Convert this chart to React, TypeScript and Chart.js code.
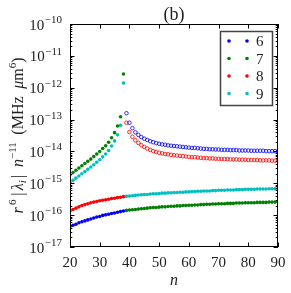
import React, { useEffect, useRef } from "react";
import { Chart, registerables } from "chart.js";
Chart.register(...registerables);

// n values
const nBefore = [20, 21, 22, 23, 24, 25, 26, 27, 28, 29, 30, 31, 32, 33, 34, 35, 36, 37, 38];
const nAfter = [
  39, 40, 41, 42, 43, 44, 45, 46, 47, 48, 49, 50, 51, 52, 53, 54, 55, 56, 57, 58, 59, 60, 61, 62, 63, 64,
  65, 66, 67, 68, 69, 70, 71, 72, 73, 74, 75, 76, 77, 78, 79, 80, 81, 82, 83, 84, 85, 86, 87, 88, 89, 90,
];

// series 6 (blue)
const blueBefore = [
  4.4e-17, 4.8e-17, 5.2e-17, 5.8e-17, 6.2e-17, 6.6e-17, 7.1e-17, 7.6e-17, 8.1e-17, 8.7e-17, 9.1e-17, 9.8e-17,
  1.02e-16, 1.07e-16, 1.12e-16, 1.17e-16, 1.23e-16, 1.29e-16, 1.35e-16,
];
const blueAfter = [
  1.58e-13, 7.94e-14, 5.37e-14, 3.98e-14, 3.31e-14, 2.82e-14, 2.51e-14, 2.29e-14, 2.09e-14, 1.95e-14, 1.82e-14,
  1.74e-14, 1.66e-14, 1.62e-14, 1.55e-14, 1.51e-14, 1.48e-14, 1.45e-14, 1.41e-14, 1.38e-14, 1.35e-14, 1.32e-14,
  1.29e-14, 1.29e-14, 1.26e-14, 1.23e-14, 1.2e-14, 1.2e-14, 1.17e-14, 1.17e-14, 1.15e-14, 1.15e-14, 1.12e-14,
  1.12e-14, 1.12e-14, 1.1e-14, 1.1e-14, 1.1e-14, 1.07e-14, 1.07e-14, 1.07e-14, 1.07e-14, 1.05e-14, 1.05e-14,
  1.05e-14, 1.05e-14, 1.05e-14, 1.02e-14, 1.02e-14, 1.02e-14, 1.02e-14, 1.02e-14,
];

// series 7 (green)
const greenBefore = [
  1.86e-15, 2.19e-15, 2.57e-15, 3.02e-15, 3.55e-15, 4.17e-15, 4.9e-15, 5.75e-15, 6.92e-15, 8.32e-15, 1.0e-14,
  1.23e-14, 1.51e-14, 1.95e-14, 2.69e-14, 3.89e-14, 6.31e-14, 1.23e-13, 2.69e-12,
];
const greenAfter = [
  1.41e-16, 1.45e-16, 1.48e-16, 1.51e-16, 1.55e-16, 1.58e-16, 1.62e-16, 1.66e-16, 1.7e-16, 1.74e-16, 1.74e-16,
  1.78e-16, 1.82e-16, 1.82e-16, 1.86e-16, 1.91e-16, 1.91e-16, 1.95e-16, 1.95e-16, 2.0e-16, 2.0e-16, 2.04e-16,
  2.04e-16, 2.09e-16, 2.09e-16, 2.14e-16, 2.14e-16, 2.19e-16, 2.19e-16, 2.24e-16, 2.24e-16, 2.29e-16, 2.29e-16,
  2.29e-16, 2.34e-16, 2.34e-16, 2.34e-16, 2.4e-16, 2.4e-16, 2.4e-16, 2.45e-16, 2.45e-16, 2.45e-16, 2.45e-16,
  2.51e-16, 2.51e-16, 2.51e-16, 2.51e-16, 2.57e-16, 2.57e-16, 2.57e-16, 2.57e-16,
];

// series 8 (red)
const redBefore = [
  1.35e-16, 1.51e-16, 1.66e-16, 1.82e-16, 2.0e-16, 2.14e-16, 2.29e-16, 2.45e-16, 2.57e-16, 2.69e-16, 2.82e-16,
  2.95e-16, 3.02e-16, 3.16e-16, 3.31e-16, 3.39e-16, 3.55e-16, 3.63e-16, 3.8e-16,
];
const redAfter = [
  7.94e-14, 4.07e-14, 2.88e-14, 2.24e-14, 1.86e-14, 1.58e-14, 1.38e-14, 1.23e-14, 1.12e-14, 1.02e-14, 9.55e-15,
  9.12e-15, 8.71e-15, 8.32e-15, 8.13e-15, 7.76e-15, 7.59e-15, 7.41e-15, 7.24e-15, 7.08e-15, 6.92e-15, 6.76e-15,
  6.61e-15, 6.61e-15, 6.46e-15, 6.31e-15, 6.17e-15, 6.17e-15, 6.03e-15, 6.03e-15, 5.89e-15, 5.89e-15, 5.75e-15,
  5.75e-15, 5.75e-15, 5.62e-15, 5.62e-15, 5.62e-15, 5.5e-15, 5.5e-15, 5.5e-15, 5.37e-15, 5.37e-15, 5.37e-15,
  5.37e-15, 5.25e-15, 5.25e-15, 5.25e-15, 5.25e-15, 5.13e-15, 5.13e-15, 5.13e-15,
];

// series 9 (cyan)
const cyanBefore = [
  1.05e-15, 1.23e-15, 1.45e-15, 1.7e-15, 2.0e-15, 2.34e-15, 2.75e-15, 3.24e-15, 3.8e-15, 4.57e-15, 5.5e-15,
  6.76e-15, 8.32e-15, 1.07e-14, 1.48e-14, 2.14e-14, 3.31e-14, 6.61e-14, 1.41e-12,
];
const cyanAfter = [
  3.89e-16, 3.98e-16, 4.07e-16, 4.17e-16, 4.27e-16, 4.37e-16, 4.47e-16, 4.47e-16, 4.57e-16, 4.68e-16, 4.68e-16,
  4.79e-16, 4.9e-16, 4.9e-16, 5.01e-16, 5.01e-16, 5.13e-16, 5.13e-16, 5.25e-16, 5.25e-16, 5.37e-16, 5.37e-16,
  5.5e-16, 5.5e-16, 5.62e-16, 5.62e-16, 5.75e-16, 5.75e-16, 5.75e-16, 5.89e-16, 5.89e-16, 6.03e-16, 6.03e-16,
  6.03e-16, 6.17e-16, 6.17e-16, 6.17e-16, 6.31e-16, 6.31e-16, 6.31e-16, 6.46e-16, 6.46e-16, 6.46e-16, 6.46e-16,
  6.61e-16, 6.61e-16, 6.61e-16, 6.61e-16, 6.76e-16, 6.76e-16, 6.76e-16, 6.76e-16,
];

const legendLabels = ["6", "7", "8", "9"];
const legendColors = ["#0000ff", "#008000", "#ff0000", "#00bfbf"];
const xTicks = [20, 30, 40, 50, 60, 70, 80, 90];
const yTickExps = [-17, -16, -15, -14, -13, -12, -11, -10];
const titleText = "(b)";
const xLabel = "n";

const SERIF = '"Liberation Serif", "DejaVu Serif", serif';
const TEXT = "#222";

function pts(xs: number[], ys: number[]) {
  return xs.map((x, i) => ({ x, y: ys[i] }));
}

function filled(label: string, color: string, xs: number[], ys: number[]) {
  return {
    label,
    data: pts(xs, ys),
    pointRadius: 1.8,
    pointBorderWidth: 0,
    pointBackgroundColor: color,
    pointBorderColor: color,
    showLine: false,
  };
}
function open(label: string, color: string, xs: number[], ys: number[]) {
  return {
    label,
    data: pts(xs, ys),
    pointRadius: 1.8,
    pointBorderWidth: 0.8,
    pointBackgroundColor: "rgba(0,0,0,0)",
    pointBorderColor: color,
    showLine: false,
  };
}

const decoPlugin = {
  id: "deco",
  afterDraw(chart: any) {
    const { ctx, chartArea: a, scales } = chart;
    const xs = scales.x;
    const ys = scales.y;
    ctx.save();
    // frame
    ctx.strokeStyle = "#000";
    ctx.lineWidth = 1;
    ctx.strokeRect(a.left + 0.5, a.top + 0.5, a.right - a.left - 1, a.bottom - a.top - 1);

    // x ticks
    ctx.beginPath();
    for (const v of xTicks) {
      const px = Math.round(xs.getPixelForValue(v)) + 0.5;
      ctx.moveTo(px, a.bottom);
      ctx.lineTo(px, a.bottom - 4.5);
      ctx.moveTo(px, a.top);
      ctx.lineTo(px, a.top + 4.5);
    }
    // y ticks
    for (const e of yTickExps) {
      const py = Math.round(ys.getPixelForValue(Math.pow(10, e))) + 0.5;
      ctx.moveTo(a.left, py);
      ctx.lineTo(a.left + 4.5, py);
      ctx.moveTo(a.right, py);
      ctx.lineTo(a.right - 4.5, py);
      if (e < -10) {
        for (let m = 2; m <= 9; m++) {
          const pm = Math.round(ys.getPixelForValue(m * Math.pow(10, e))) + 0.5;
          ctx.moveTo(a.left, pm);
          ctx.lineTo(a.left + 2.3, pm);
          ctx.moveTo(a.right, pm);
          ctx.lineTo(a.right - 2.3, pm);
        }
      }
    }
    ctx.stroke();

    ctx.fillStyle = TEXT;
    // x tick labels
    ctx.font = `15px ${SERIF}`;
    ctx.textAlign = "center";
    ctx.textBaseline = "alphabetic";
    for (const v of xTicks) {
      ctx.fillText(String(v), xs.getPixelForValue(v), a.bottom + 20);
    }
    // y tick labels
    for (const e of yTickExps) {
      const py = ys.getPixelForValue(Math.pow(10, e));
      const expStr = "\u2212" + String(-e);
      ctx.font = `11px ${SERIF}`;
      const ew = ctx.measureText(expStr).width;
      const right = a.left - 8;
      ctx.textAlign = "left";
      ctx.fillText(expStr, right - ew, py - 1);
      ctx.font = `15px ${SERIF}`;
      ctx.textAlign = "right";
      ctx.fillText("10", right - ew - 0.5, py + 5.5);
    }
    // x label
    ctx.font = `italic 16px ${SERIF}`;
    ctx.textAlign = "center";
    ctx.fillText(xLabel, (a.left + a.right) / 2, a.bottom + 38);
    // title
    ctx.font = `18px ${SERIF}`;
    ctx.fillText(titleText, (a.left + a.right) / 2, a.top - 4);

    // y label (rich text)
    const segs: [string, string, number][] = [
      ["r", "italic 16px", 0],
      ["6", "11px", -7],
      ["|", "16px", 0],
      ["\u03bb", "italic 16px", 0],
      ["i", "italic 11px", 3],
      ["|", "16px", 0],
      ["n", "italic 16px", 0],
      ["\u221211", "11px", -7],
      ["(MHz", "16px", 0],
      ["\u03bc", "italic 16px", 0],
      ["m", "16px", 0],
      ["6", "11px", -7],
      [")", "16px", 0],
    ];
    const gapAfter = [0.3, 0.5, 0.3, 0, 0.3, 1, 0, 1, 1, 0, 0, 0, 0];
    let natural = 0;
    const widths: number[] = [];
    for (const [t, f] of segs) {
      ctx.font = `${f} ${SERIF}`;
      const w = ctx.measureText(t).width;
      widths.push(w);
      natural += w;
    }
    const target = 156;
    const nGaps = gapAfter.reduce((s, g) => s + g, 0);
    const gap = Math.max(3, (target - natural) / nGaps);
    const total = natural + gap * nGaps;
    const cy = (a.top + a.bottom) / 2;
    ctx.translate(23, cy);
    ctx.rotate(-Math.PI / 2);
    ctx.textAlign = "left";
    let cx = -total / 2;
    segs.forEach(([t, f, dy], i) => {
      ctx.font = `${f} ${SERIF}`;
      ctx.fillText(t, cx, dy);
      cx += widths[i] + gapAfter[i] * gap;
    });
    ctx.setTransform(1, 0, 0, 1, 0, 0);

    // legend
    const bw = 52;
    const bh = 74;
    const bx = a.right - 6 - bw;
    const by = a.top + 7;
    ctx.fillStyle = "#fff";
    ctx.fillRect(bx, by, bw, bh);
    ctx.strokeStyle = "#444";
    ctx.lineWidth = 1.5;
    ctx.strokeRect(bx + 0.5, by + 0.5, bw, bh);
    legendLabels.forEach((lab, i) => {
      const ry = by + 10 + i * 17.5;
      ctx.fillStyle = legendColors[i];
      for (const dx of [9, 27]) {
        ctx.beginPath();
        ctx.arc(bx + dx, ry, 1.8, 0, Math.PI * 2);
        ctx.fill();
      }
      ctx.fillStyle = TEXT;
      ctx.font = `15px ${SERIF}`;
      ctx.textAlign = "left";
      ctx.fillText(lab, bx + 36, ry + 5);
    });
    ctx.restore();
  },
};

export default function App() {
  const ref = useRef<HTMLCanvasElement | null>(null);
  useEffect(() => {
    document.body.style.margin = "0";
    if (!ref.current) return;
    const chart = new Chart(ref.current, {
      type: "scatter",
      data: {
        datasets: [
          filled(legendLabels[0], legendColors[0], nBefore, blueBefore),
          open(legendLabels[0], legendColors[0], nAfter, blueAfter),
          filled(legendLabels[1], legendColors[1], nBefore, greenBefore),
          filled(legendLabels[1], legendColors[1], nAfter, greenAfter),
          filled(legendLabels[2], legendColors[2], nBefore, redBefore),
          open(legendLabels[2], legendColors[2], nAfter, redAfter),
          filled(legendLabels[3], legendColors[3], nBefore, cyanBefore),
          filled(legendLabels[3], legendColors[3], nAfter, cyanAfter),
        ] as any,
      },
      options: {
        animation: false,
        responsive: false,
        devicePixelRatio: 1,
        layout: { padding: { left: 70, top: 24, right: 13, bottom: 46 } },
        plugins: {
          legend: { display: false },
          tooltip: { enabled: false },
          title: { display: false },
        },
        scales: {
          x: { type: "linear", min: 20, max: 90, display: false },
          y: { type: "logarithmic", min: 1e-17, max: 1e-10, display: false },
        },
      },
      plugins: [decoPlugin],
    });
    return () => chart.destroy();
  }, []);
  return (
    <div style={{ position: "absolute", left: 0, top: 0, width: 291, height: 293 }}>
      <canvas ref={ref} width={291} height={293} style={{ width: 291, height: 293 }} />
    </div>
  );
}
